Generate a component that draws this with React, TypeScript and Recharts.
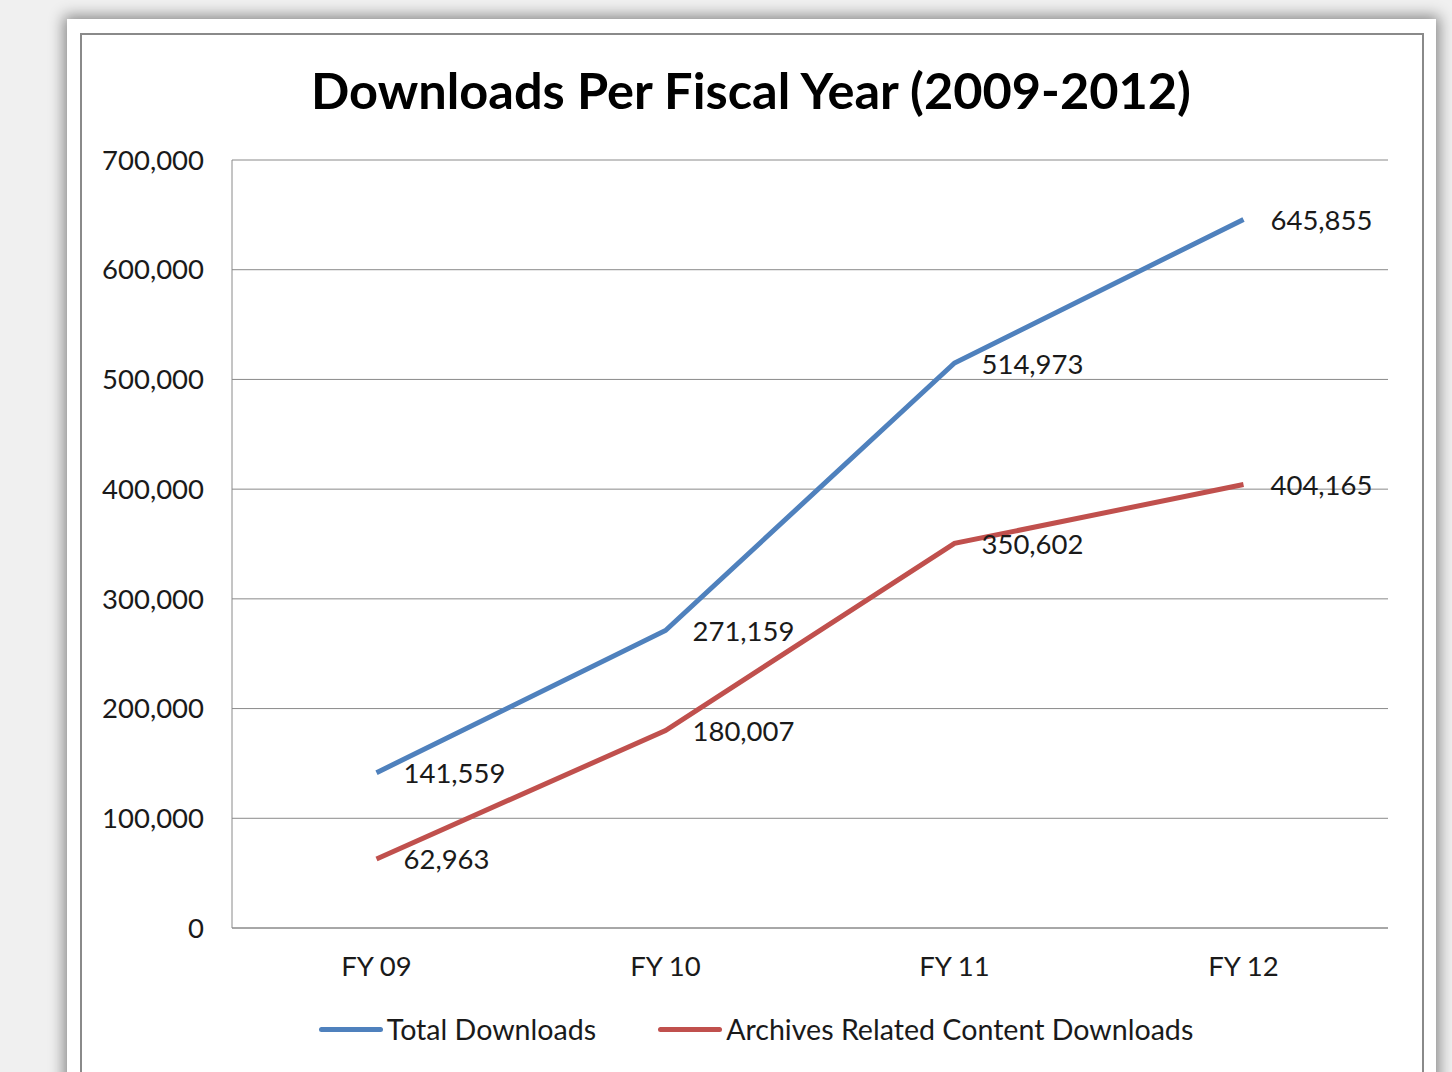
import React from 'react';
import { LineChart, Line, XAxis, YAxis, CartesianGrid, Legend, LabelList } from 'recharts';

const categories = ['FY 09', 'FY 10', 'FY 11', 'FY 12'];
const totalDownloads = [141559, 271159, 514973, 645855];
const archivesDownloads = [62963, 180007, 350602, 404165];
const yTicks = [0, 100000, 200000, 300000, 400000, 500000, 600000, 700000];
const seriesNames = ['Total Downloads', 'Archives Related Content Downloads'];
const seriesColors = ['#4F81BD', '#C0504D'];

const data = categories.map((c, i) => ({
  name: c,
  total: totalDownloads[i],
  archives: archivesDownloads[i],
}));

const FONT = 'Lato, "Open Sans", sans-serif';
const fmt = (v: number) => v.toLocaleString('en-US');

const renderLabel = (props: any) => {
  const { x, y, value } = props;
  return (
    <text
      x={x + 27}
      y={y}
      dominantBaseline="central"
      textAnchor="start"
      fontFamily={FONT}
      fontSize={27.5}
      fill="#1a1a1a"
    >
      {fmt(value)}
    </text>
  );
};

const renderLegend = () => (
  <div
    style={{
      display: 'flex',
      justifyContent: 'center',
      alignItems: 'center',
      fontFamily: FONT,
      fontSize: 28.6,
      color: '#1a1a1a',
      gap: 62,
    }}
  >
    {seriesNames.map((n, i) => (
      <div key={n} style={{ display: 'flex', alignItems: 'center' }}>
        <div style={{ width: 64, height: 5, borderRadius: 3, background: seriesColors[i], marginRight: 4 }} />
        <span>{n}</span>
      </div>
    ))}
  </div>
);

export default function App() {
  return (
    <div
      style={{
        position: 'absolute',
        left: 0,
        top: 0,
        width: 1452,
        height: 1072,
        overflow: 'hidden',
        background: '#f0f0f0',
      }}
    >
      <div
        style={{
          position: 'absolute',
          left: 67,
          top: 19,
          width: 1369,
          height: 1100,
          background: '#ffffff',
          boxShadow: '0 0 14px 3px rgba(0,0,0,0.45)',
        }}
      />
      <div
        style={{
          position: 'absolute',
          left: 80,
          top: 33,
          width: 1340,
          height: 1100,
          border: '2px solid #8a8a8a',
        }}
      />
      <div
        style={{
          position: 'absolute',
          left: 80,
          top: 60,
          width: 1342,
          textAlign: 'center',
          fontFamily: FONT,
          fontWeight: 700,
          fontSize: 50.5,
          color: '#000',
          lineHeight: '60px',
        }}
      >
        Downloads Per Fiscal Year (2009-2012)
      </div>
      <div style={{ position: 'absolute', left: 0, top: 0 }}>
        <LineChart
          width={1452}
          height={1072}
          data={data}
          margin={{ top: 160, right: 64, bottom: 84, left: 132 }}
        >
          <CartesianGrid vertical={false} stroke="#8a8a8a" strokeWidth={1} />
          <XAxis
            dataKey="name"
            padding={{ left: 144.5, right: 144.5 }}
            tickLine={false}
            axisLine={{ stroke: '#8a8a8a', strokeWidth: 1 }}
            tickSize={0}
            tickMargin={28}
            tick={{ fontFamily: FONT, fontSize: 27.5, fill: '#1a1a1a' }}
            height={60}
          />
          <YAxis
            width={100}
            domain={[0, 700000]}
            ticks={yTicks}
            tickFormatter={fmt}
            tickLine={false}
            axisLine={{ stroke: '#8a8a8a', strokeWidth: 1 }}
            tickSize={0}
            tickMargin={28}
            tick={{ fontFamily: FONT, fontSize: 27.5, fill: '#1a1a1a' }}
          />
          <Legend
            layout="horizontal"
            verticalAlign="middle"
            align="center"
            wrapperStyle={{ top: 1012, left: 60, width: 1392 }}
            content={renderLegend}
          />
          <Line
            type="linear"
            dataKey="total"
            name={seriesNames[0]}
            stroke={seriesColors[0]}
            strokeWidth={5}
            dot={false}
            isAnimationActive={false}
          >
            <LabelList dataKey="total" content={renderLabel} />
          </Line>
          <Line
            type="linear"
            dataKey="archives"
            name={seriesNames[1]}
            stroke={seriesColors[1]}
            strokeWidth={5}
            dot={false}
            isAnimationActive={false}
          >
            <LabelList dataKey="archives" content={renderLabel} />
          </Line>
        </LineChart>
      </div>
    </div>
  );
}
